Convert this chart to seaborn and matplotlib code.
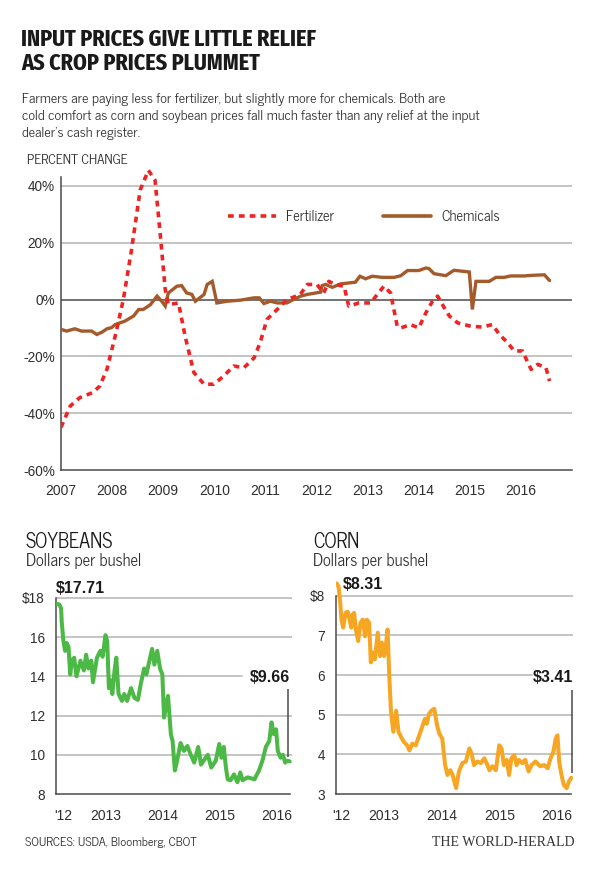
import matplotlib
matplotlib.use("Agg")
import matplotlib.pyplot as plt
from matplotlib import font_manager as fm
import seaborn as sns
from matplotlib.ticker import FixedLocator, FixedFormatter, NullFormatter
from matplotlib.lines import Line2D

# ---------------- DATA ----------------
fert_year = [2007.0, 2007.18, 2007.37, 2007.63, 2007.76, 2007.9, 2008.06, 2008.22, 2008.38, 2008.55,
             2008.71, 2008.84, 2008.94, 2009.04, 2009.1, 2009.3, 2009.43, 2009.6, 2009.8, 2009.99,
             2010.18, 2010.38, 2010.58, 2010.78, 2010.9, 2011.03, 2011.23, 2011.42, 2011.68, 2011.82,
             2012.01, 2012.14, 2012.24, 2012.37, 2012.54, 2012.63, 2012.83, 2013.06, 2013.19, 2013.32,
             2013.45, 2013.58, 2013.65, 2013.84, 2014.0, 2014.14, 2014.27, 2014.37, 2014.5, 2014.6,
             2014.76, 2015.02, 2015.25, 2015.44, 2015.58, 2015.74, 2015.87, 2016.03, 2016.2, 2016.33,
             2016.49, 2016.56]
fert_pct = [-45, -37.5, -34.5, -32.7, -30.4, -24.5, -12.9, 0, 17.5, 38.6,
            45.5, 42, 23.4, 3.5, -1.8, -1.2, -13, -25.7, -29.8, -29.8,
            -27, -23.4, -24, -20.5, -15, -7, -3.5, 0, 1.7, 5.3,
            5.3, 2.3, 6.4, 5.3, 4.7, -2.3, -1.2, -1.2, 1.8, 4.7,
            2.3, -9.4, -10, -8.8, -10, -4.7, -0.6, 1.2, -2.9, -5.8,
            -8.2, -9.4, -9.7, -8.8, -12.3, -15.2, -18.1, -18.1, -24.6, -22.8,
            -24, -28.7]

chem_year = [2007.0, 2007.11, 2007.27, 2007.4, 2007.6, 2007.7, 2007.8, 2007.9, 2007.99, 2008.06,
             2008.25, 2008.42, 2008.52, 2008.61, 2008.75, 2008.88, 2008.97, 2009.04, 2009.1, 2009.27,
             2009.36, 2009.46, 2009.56, 2009.63, 2009.8, 2009.86, 2009.96, 2010.05, 2010.25, 2010.52,
             2010.78, 2010.88, 2010.97, 2011.1, 2011.23, 2011.42, 2011.55, 2011.69, 2011.82, 2012.08,
             2012.11, 2012.18, 2012.31, 2012.47, 2012.76, 2012.85, 2012.96, 2013.09, 2013.29, 2013.52,
             2013.65, 2013.78, 2014.0, 2014.14, 2014.2, 2014.3, 2014.53, 2014.69, 2014.99, 2015.05,
             2015.12, 2015.38, 2015.51, 2015.67, 2015.8, 2016.07, 2016.2, 2016.46, 2016.56]
chem_pct = [-10.5, -11.1, -10.3, -11.1, -11.1, -12.3, -11.5, -10.3, -9.9, -8.8,
            -7.6, -5.8, -3.5, -3.5, -1.8, 1.2, -0.6, -2.3, 2.3, 4.7,
            4.9, 2.3, 1.8, -0.6, 1.8, 5.3, 6.4, -1.2, -0.6, -0.2,
            0.6, 0.6, -1.4, -0.6, -1.2, -1.2, 0, 1.2, 1.8, 2.6,
            4.9, 5.3, 4.3, 5.5, 6.1, 8.2, 7.3, 8.2, 7.8, 7.8,
            8.4, 10.2, 10.2, 11.1, 10.9, 9.1, 8.4, 10.3, 9.7, -3.5,
            6.4, 6.4, 7.8, 7.8, 8.3, 8.3, 8.5, 8.7, 6.7]

soy_year = [2012.62, 2012.68, 2012.71, 2012.72, 2012.75, 2012.78, 2012.81, 2012.84, 2012.87, 2012.90,
            2012.94, 2012.98, 2013.05, 2013.11, 2013.15, 2013.19, 2013.24, 2013.27, 2013.34, 2013.40,
            2013.44, 2013.49, 2013.52, 2013.55, 2013.58, 2013.61, 2013.65, 2013.68, 2013.72, 2013.78,
            2013.82, 2013.87, 2013.94, 2014.00, 2014.06, 2014.11, 2014.17, 2014.21, 2014.27, 2014.31,
            2014.35, 2014.40, 2014.45, 2014.49, 2014.52, 2014.55, 2014.59, 2014.64, 2014.67, 2014.71,
            2014.75, 2014.81, 2014.87, 2014.93, 2014.99, 2015.05, 2015.12, 2015.17, 2015.24, 2015.29,
            2015.35, 2015.43, 2015.49, 2015.53, 2015.57, 2015.61, 2015.64, 2015.69, 2015.75, 2015.81,
            2015.86, 2015.90, 2015.99, 2016.11, 2016.19, 2016.25, 2016.31, 2016.37, 2016.41, 2016.45,
            2016.49, 2016.52, 2016.57, 2016.61, 2016.65, 2016.69, 2016.73]
soy_price = [17.71, 17.66, 17.46, 16.8, 15.8, 15.3, 15.7, 15.5, 14.1, 14.8,
             14.95, 14.0, 14.8, 14.3, 15.1, 14.4, 14.8, 13.7, 14.95, 15.3,
             15.0, 16.1, 15.8, 13.4, 13.8, 13.1, 14.3, 14.95, 13.1, 12.75,
             13.1, 12.75, 13.4, 12.9, 12.8, 13.6, 14.4, 14.1, 14.9, 15.4,
             14.6, 15.3, 14.4, 14.1, 11.9, 12.4, 13.0, 11.05, 10.7, 9.2,
             9.7, 10.6, 10.2, 10.45, 10.0, 9.6, 10.4, 9.5, 9.8, 10.0,
             9.35, 9.7, 10.55, 9.85, 10.4, 9.3, 8.75, 8.7, 9.0, 8.6,
             9.1, 8.7, 8.85, 8.75, 9.2, 9.7, 10.4, 10.7, 11.65, 11.05,
             11.3, 10.2, 9.85, 10.0, 9.6, 9.7, 9.66]

corn_year = [2012.68, 2012.71, 2012.74, 2012.76, 2012.79, 2012.83, 2012.87, 2012.90, 2012.93, 2012.95,
             2012.98, 2013.01, 2013.05, 2013.09, 2013.13, 2013.17, 2013.20, 2013.24, 2013.27, 2013.30,
             2013.34, 2013.39, 2013.43, 2013.46, 2013.50, 2013.53, 2013.56, 2013.59, 2013.62, 2013.66,
             2013.71, 2013.75, 2013.78, 2013.84, 2013.90, 2013.94, 2013.99, 2014.05, 2014.11, 2014.17,
             2014.21, 2014.24, 2014.28, 2014.32, 2014.37, 2014.42, 2014.46, 2014.51, 2014.56, 2014.60,
             2014.65, 2014.69, 2014.75, 2014.80, 2014.86, 2014.92, 2014.98, 2015.02, 2015.06, 2015.12,
             2015.18, 2015.24, 2015.28, 2015.33, 2015.38, 2015.44, 2015.50, 2015.54, 2015.58, 2015.63,
             2015.67, 2015.71, 2015.76, 2015.80, 2015.84, 2015.90, 2015.95, 2016.01, 2016.06, 2016.13,
             2016.21, 2016.28, 2016.34, 2016.39, 2016.44, 2016.48, 2016.51, 2016.54, 2016.58, 2016.62,
             2016.67, 2016.71, 2016.75]
corn_price = [8.31, 8.23, 7.8, 7.4, 7.2, 7.57, 7.6, 7.4, 7.2, 7.52,
              7.57, 7.15, 6.86, 7.32, 7.4, 6.98, 7.4, 7.32, 6.32, 6.57,
              6.4, 7.07, 6.48, 6.82, 6.48, 6.73, 7.15, 5.98, 5.07, 4.57,
              5.1, 4.57, 4.48, 4.32, 4.23, 4.1, 4.27, 4.23, 4.48, 4.73,
              4.9, 4.77, 5.02, 5.1, 5.15, 4.73, 4.52, 4.4, 3.73, 3.48,
              3.6, 3.48, 3.15, 3.57, 3.78, 3.82, 4.15, 4.02, 3.73, 3.82,
              3.78, 3.9, 3.78, 3.6, 3.7, 3.6, 4.23, 4.15, 3.73, 3.86,
              3.48, 3.9, 3.98, 3.73, 3.86, 3.78, 3.86, 3.57, 3.73, 3.82,
              3.7, 3.73, 3.65, 3.9, 4.07, 4.4, 4.48, 3.82, 3.48, 3.23,
              3.15, 3.32, 3.41]

assert len(fert_year) == len(fert_pct)
assert len(chem_year) == len(chem_pct)
assert len(soy_year) == len(soy_price)
assert len(corn_year) == len(corn_price)

pct_ticks = [-60, -40, -20, 0, 20, 40]
pct_labels = ["-60%", "-40%", "-20%", "0%", "20%", "40%"]
year_ticks = list(range(2007, 2018))
year_labels = [str(y) for y in range(2007, 2017)] + [""]

soy_ticks = [8, 10, 12, 14, 16, 18]
soy_labels = ["8", "10", "12", "14", "16", "$18"]
corn_ticks = [3, 4, 5, 6, 7, 8]
corn_labels = ["3", "4", "5", "6", "7", "$8"]
crop_year_bounds = [2013, 2014, 2015, 2016]
crop_label_pos = [2012.75, 2013.5, 2014.5, 2015.5, 2016.5]
crop_labels = ["'12", "2013", "2014", "2015", "2016"]

# ---------------- FONTS ----------------
_fonts = fm.fontManager.ttflist
_avail = {f.name for f in _fonts}


def pick(*cands):
    for c in cands:
        if c in _avail:
            return [c, "DejaVu Sans"]
    return ["Liberation Sans", "DejaVu Sans"]


def has_bold(name):
    return any(f.name == name and (f.weight in (700, "bold") or str(f.weight) == "700") for f in _fonts)


_title_cands = [c for c in ("Fira Sans Extra Condensed", "Barlow Condensed", "Oswald",
                            "Archivo Narrow") if c in _avail and has_bold(c)]
TITLE_F = pick(*_title_cands) if _title_cands else pick("League Gothic", "Liberation Sans")
TITLE_W = "bold"
BODY_F = pick("News Cycle", "Archivo Narrow", "Liberation Sans")
NUM_F = pick("Liberation Sans", "DejaVu Sans")
SERIF_F = pick("Liberation Serif", "DejaVu Serif")

# ---------------- STYLE ----------------
sns.set_theme(style="white")
plt.rcParams["font.family"] = NUM_F

FERT_C = "#ee2424"
CHEM_C = "#a45a2a"
SOY_C = "#4cb846"
CORN_C = "#f6a623"
GRID_C = "#b4b4b4"
AX_C = "#4a4a4a"
TXT_C = "#2e2e2e"

W, H = 600, 875
fig = plt.figure(figsize=(6, 8.75), dpi=100)
fig.patch.set_facecolor("white")


def fx(px):
    return px / W


def fy(py):
    return 1 - py / H


# ---------------- HEADER ----------------
title_lines = ["INPUT PRICES GIVE LITTLE RELIEF", "AS CROP PRICES PLUMMET"]
for i, line in enumerate(title_lines):
    fig.text(fx(21), fy(39 + 24 * i), line, family=TITLE_F, weight=TITLE_W,
             size=17.3, color="#1a1a1a", va="center", ha="left")
sub = ["Farmers are paying less for fertilizer, but slightly more for chemicals. Both are",
       "cold comfort as corn and soybean prices fall much faster than any relief at the input",
       "dealer\u2019s cash register."]
for i, line in enumerate(sub):
    fig.text(fx(22), fy(100 + 16.5 * i), line, family=BODY_F, size=10.2, color=TXT_C,
             va="center", ha="left")

fig.text(fx(27), fy(160), "PERCENT CHANGE", family=BODY_F, size=9.5, color=TXT_C,
         va="center", ha="left")

# ---------------- TOP CHART ----------------
ax = fig.add_axes([fx(61), fy(470), fx(572) - fx(61), (470 - 166) / H])
ax.set_facecolor("white")
for v in pct_ticks[1:]:
    ax.axhline(v, color=(AX_C if v == 0 else GRID_C), lw=1.1, zorder=1)

sns.lineplot(x=chem_year, y=chem_pct, ax=ax, color=CHEM_C, lw=2.4, zorder=3,
             label="Chemicals", solid_joinstyle="miter")
sns.lineplot(x=fert_year, y=fert_pct, ax=ax, color=FERT_C, lw=2.6, zorder=4,
             linestyle=(0, (1.6, 1.4)), dash_capstyle="butt", label="Fertilizer")

ax.set_xlim(2007, 2017)
ax.set_ylim(-60, 47)
ax.set_yticks(pct_ticks)
ax.set_yticklabels(pct_labels)
ax.set_xticks(year_ticks)
ax.set_xticklabels(year_labels)
ax.tick_params(axis="y", length=0, pad=4.5, labelsize=9.8, labelcolor=TXT_C)
ax.tick_params(axis="x", direction="out", length=6, width=1.1, color=AX_C, pad=4,
               labelsize=10, labelcolor=TXT_C)
for s in ["top", "right"]:
    ax.spines[s].set_visible(False)
for s in ["left", "bottom"]:
    ax.spines[s].set_color(AX_C)
    ax.spines[s].set_linewidth(1.1)
ax.spines["left"].set_bounds(-60, 43)
ax.set_xlabel("")
ax.set_ylabel("")
ax.grid(False)

handles = [Line2D([], [], color=FERT_C, lw=2.6, linestyle=(0, (1.6, 1.4)), dash_capstyle="butt"),
           Line2D([], [], color=CHEM_C, lw=2.6)]
leg = ax.legend(handles, ["Fertilizer", "Chemicals"], ncol=2, frameon=False,
                loc="center left", bbox_to_anchor=((228 - 61) / 511, (470 - 217) / 304),
                borderaxespad=0, borderpad=0, handlelength=3.3, handletextpad=0.65,
                columnspacing=3.4, prop={"family": BODY_F, "size": 10.5})
for t in leg.get_texts():
    t.set_color(TXT_C)


# ---------------- CROP CHARTS ----------------
def crop_axes(rect, xs, ys, color, ylim, yticks, ylabels, xlim, split_val, split_frac):
    a = fig.add_axes(rect)
    a.set_facecolor("white")
    for v in yticks[1:]:
        if v == split_val:
            a.axhline(v, xmax=split_frac, color=GRID_C, lw=1.1, zorder=1)
        else:
            a.axhline(v, color=GRID_C, lw=1.1, zorder=1)
    sns.lineplot(x=xs, y=ys, ax=a, color=color, lw=2.9, zorder=3,
                 solid_joinstyle="round")
    a.set_xlim(*xlim)
    a.set_ylim(*ylim)
    a.set_yticks(yticks)
    a.set_yticklabels(ylabels)
    a.tick_params(axis="y", length=0, pad=8, labelsize=9.8, labelcolor=TXT_C)
    a.xaxis.set_major_locator(FixedLocator(crop_year_bounds))
    a.xaxis.set_major_formatter(NullFormatter())
    quarters = [xlim[0] + 0.005] + [q / 4 for q in range(2012 * 4 + 3, 2016 * 4 + 3)] + [xs[-1]]
    quarters = [q for q in quarters if q not in crop_year_bounds]
    minor_labels = []
    for q in quarters:
        lab = ""
        for p, l in zip(crop_label_pos, crop_labels):
            if abs(q - p) < 1e-6:
                lab = l
        minor_labels.append(lab)
    a.xaxis.set_minor_locator(FixedLocator(quarters))
    a.xaxis.set_minor_formatter(FixedFormatter(minor_labels))
    a.tick_params(axis="x", which="major", direction="inout", length=13, width=1.1, color=AX_C)
    a.tick_params(axis="x", which="minor", direction="out", length=5.5, width=1.1, color=AX_C,
                  pad=5, labelsize=10, labelcolor=TXT_C)
    for s in ["top", "right"]:
        a.spines[s].set_visible(False)
    for s in ["left", "bottom"]:
        a.spines[s].set_color(AX_C)
        a.spines[s].set_linewidth(1.1)
    a.spines["left"].set_bounds(ylim[0], yticks[-1])
    a.spines["bottom"].set_bounds(xlim[0], xs[-1])
    a.set_xlabel("")
    a.set_ylabel("")
    a.grid(False)
    return a


soy_xlim = (2012.62, 2016.77)
axs = crop_axes([fx(56), fy(794), fx(292) - fx(56), (794 - 594) / H], soy_year, soy_price,
                SOY_C, (8, 18.2), soy_ticks, soy_labels, soy_xlim, 14, 0.788)
corn_xlim = (2012.665, 2016.78)
axc = crop_axes([fx(336), fy(794), fx(573) - fx(336), (794 - 578) / H], corn_year, corn_price,
                CORN_C, (3, 8.45), corn_ticks, corn_labels, corn_xlim, 6, 0.826)

# annotation lines and labels
axs.vlines(soy_year[-1] - 0.03, soy_price[-1] + 0.25, 13.36, color=AX_C, lw=1.1, zorder=2)
axc.vlines(2016.765, corn_price[-1] + 0.12, 5.63, color=AX_C, lw=1.1, zorder=2)

ann = dict(va="center", weight="bold", size=11.5, color="#1a1a1a", clip_on=False, family=NUM_F)
axs.text(soy_xlim[0], 18.5, "$%.2f" % soy_price[0], ha="left", **ann)
axs.text(2016.73, 13.92, "$%.2f" % soy_price[-1], ha="right", **ann)
axc.text(2012.79, 8.28, "$%.2f" % corn_price[0], ha="left", **ann)
axc.text(2016.79, 5.95, "$%.2f" % corn_price[-1], ha="right", **ann)

# crop titles
for x0, name in [(26, "SOYBEANS"), (313, "CORN")]:
    fig.text(fx(x0), fy(542), name, family=BODY_F, size=14.3, color="#1a1a1a", va="center")
    fig.text(fx(x0), fy(561), "Dollars per bushel", family=BODY_F, size=12, color=TXT_C,
             va="center")

# footer
fig.text(fx(25), fy(843), "SOURCES: USDA, Bloomberg, CBOT", family=BODY_F, size=8.9,
         color=TXT_C, va="center")
fig.text(fx(574), fy(843), "THE WORLD-HERALD", family=SERIF_F,
         size=10, color="#333333", va="center", ha="right")

fig.savefig("out.png", dpi=100, facecolor="white")
